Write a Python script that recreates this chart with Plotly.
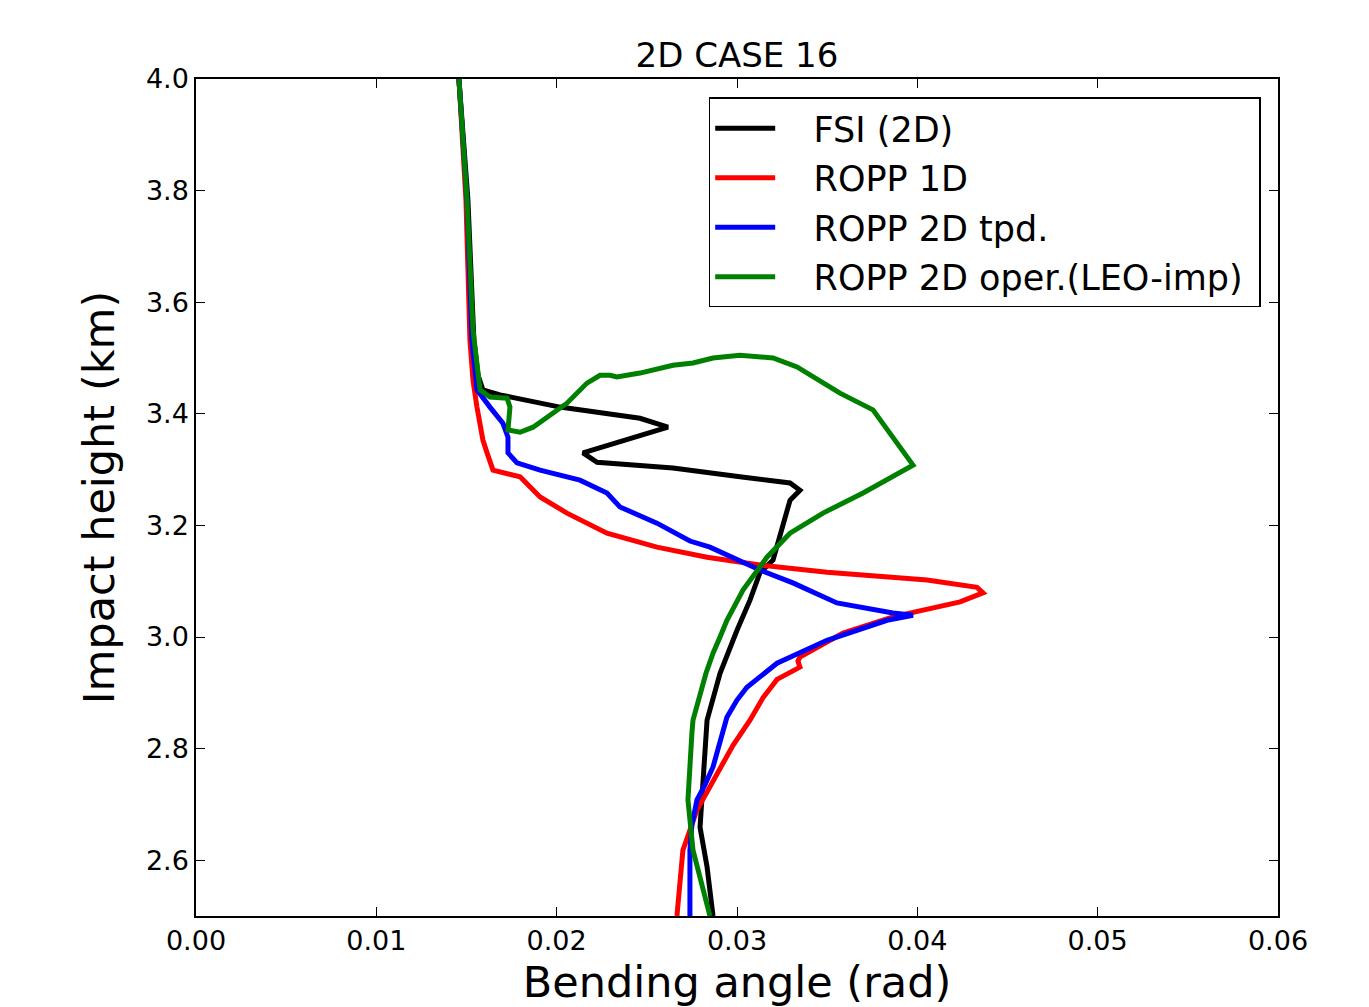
import plotly.graph_objects as go

# FSI (2D)
fsi_x = [0.01458, 0.01508, 0.01541, 0.01564, 0.01591, 0.01686, 0.02018, 0.02462, 0.02617, 0.02146,
         0.02224, 0.02645, 0.03016, 0.03294, 0.03349, 0.03294, 0.03200, 0.03127, 0.03072, 0.03000,
         0.02906, 0.02834, 0.02811, 0.02795, 0.02834, 0.02867]
fsi_y = [4.0, 3.783, 3.532, 3.469, 3.443, 3.434, 3.412, 3.392, 3.376, 3.330,
         3.313, 3.303, 3.287, 3.276, 3.263, 3.245, 3.138, 3.115, 3.066, 3.012,
         2.935, 2.851, 2.738, 2.659, 2.588, 2.500]

# ROPP 1D
r1d_x = [0.01458, 0.01497, 0.01519, 0.01536, 0.01558, 0.01591, 0.01614, 0.01647, 0.01797, 0.01908,
         0.02057, 0.02279, 0.02556, 0.02834, 0.03127, 0.03499, 0.04054, 0.04331, 0.04364, 0.04237,
         0.03865, 0.03588, 0.03349, 0.03338, 0.03349, 0.03294, 0.03222, 0.03144, 0.03072, 0.02978,
         0.02889, 0.02778, 0.02700, 0.02667]
r1d_y = [4.0, 3.783, 3.532, 3.460, 3.412, 3.353, 3.330, 3.299, 3.287, 3.251,
         3.222, 3.186, 3.161, 3.143, 3.129, 3.116, 3.102, 3.089, 3.079, 3.063,
         3.036, 3.007, 2.964, 2.957, 2.946, 2.937, 2.924, 2.891, 2.851, 2.806,
         2.756, 2.690, 2.618, 2.500]

# ROPP 2D tpd.
r2t_x = [0.01458, 0.01503, 0.01530, 0.01547, 0.01558, 0.01630, 0.01702, 0.01730, 0.01730, 0.01780,
         0.01908, 0.02129, 0.02279, 0.02351, 0.02556, 0.02739, 0.02850, 0.03127, 0.03310, 0.03554,
         0.03865, 0.03976, 0.03832, 0.03499, 0.03222, 0.03055, 0.03000, 0.02944, 0.02906, 0.02867,
         0.02822, 0.02778, 0.02750, 0.02739, 0.02739]
r2t_y = [4.0, 3.783, 3.532, 3.469, 3.443, 3.412, 3.383, 3.358, 3.330, 3.312,
         3.299, 3.281, 3.258, 3.233, 3.204, 3.172, 3.161, 3.120, 3.097, 3.061,
         3.043, 3.039, 3.030, 2.994, 2.953, 2.910, 2.887, 2.856, 2.815, 2.767,
         2.735, 2.708, 2.663, 2.618, 2.500]

# ROPP 2D oper.(LEO-imp)
r2o_x = [0.01458, 0.01503, 0.01536, 0.01558, 0.01575, 0.01630, 0.01725, 0.01741, 0.01730, 0.01797,
         0.01869, 0.02057, 0.02168, 0.02240, 0.02296, 0.02334, 0.02462, 0.02645, 0.02756, 0.02867,
         0.03016, 0.03200, 0.03333, 0.03571, 0.03754, 0.03976, 0.03699, 0.03477, 0.03294, 0.03166,
         0.03100, 0.03033, 0.02989, 0.02944, 0.02906, 0.02867, 0.02828, 0.02795, 0.02773, 0.02756,
         0.02750, 0.02728, 0.02756, 0.02850]
r2o_y = [4.0, 3.783, 3.550, 3.478, 3.443, 3.430, 3.428, 3.412, 3.371, 3.367,
         3.376, 3.419, 3.455, 3.469, 3.469, 3.466, 3.473, 3.487, 3.491, 3.500,
         3.505, 3.500, 3.484, 3.437, 3.407, 3.308, 3.258, 3.222, 3.186, 3.143,
         3.115, 3.084, 3.057, 3.030, 3.000, 2.971, 2.935, 2.899, 2.869, 2.851,
         2.828, 2.708, 2.618, 2.500]

x_ticks = [0.00, 0.01, 0.02, 0.03, 0.04, 0.05, 0.06]
x_tick_labels = ["0.00", "0.01", "0.02", "0.03", "0.04", "0.05", "0.06"]
y_ticks = [2.6, 2.8, 3.0, 3.2, 3.4, 3.6, 3.8, 4.0]
y_tick_labels = ["2.6", "2.8", "3.0", "3.2", "3.4", "3.6", "3.8", "4.0"]

series = [
    ("FSI (2D)", fsi_x, fsi_y, "#000000"),
    ("ROPP 1D", r1d_x, r1d_y, "#ff0000"),
    ("ROPP 2D tpd.", r2t_x, r2t_y, "#0000ff"),
    ("ROPP 2D oper.(LEO-imp)", r2o_x, r2o_y, "#008000"),
]

fig = go.Figure()
for i, (name, xs, ys, col) in enumerate(series):
    fig.add_trace(go.Scatter(x=xs, y=ys, mode="lines",
                             name="\u00a0\u00a0\u00a0" + name + "\u00a0",
                             line=dict(color=col, width=5),
                             legendgroup=f"g{i}"))

font_family = "DejaVu Sans, sans-serif"
W, H = 1361, 999
fig.update_layout(
    width=W, height=H,
    margin=dict(l=188, r=91, t=71, b=91),
    paper_bgcolor="white", plot_bgcolor="white",
    font=dict(family=font_family, color="black"),
    title=dict(text="2D CASE 16", x=729 / W, xanchor="center",
               y=1 - 47 / H, yanchor="middle", font=dict(size=34, family=font_family)),
    showlegend=True,
    legend=dict(x=0.984, xanchor="right", y=0.978, yanchor="top",
                bgcolor="white", bordercolor="black", borderwidth=1.5,
                font=dict(size=35, family=font_family),
                tracegroupgap=1,
                itemwidth=60),
)
fig.update_xaxes(range=[0, 0.06], tickvals=x_ticks, ticktext=x_tick_labels,
                 ticks="inside", ticklen=9, tickwidth=1, tickcolor="black",
                 showline=True, linecolor="black", linewidth=1.5, mirror="allticks",
                 showgrid=False, zeroline=False, automargin=False,
                 tickfont=dict(size=27, family=font_family),
                 title=dict(text="Bending angle (rad)", font=dict(size=43, family=font_family),
                            standoff=16))
fig.update_yaxes(range=[2.5, 4.0], tickvals=y_ticks, ticktext=y_tick_labels,
                 ticks="inside", ticklen=9, tickwidth=1, tickcolor="black",
                 showline=True, linecolor="black", linewidth=1.5, mirror="allticks",
                 showgrid=False, zeroline=False, automargin=False,
                 tickfont=dict(size=27, family=font_family),
                 title=dict(text="Impact height (km)", font=dict(size=43, family=font_family),
                            standoff=18))

fig.write_html("out.html")
